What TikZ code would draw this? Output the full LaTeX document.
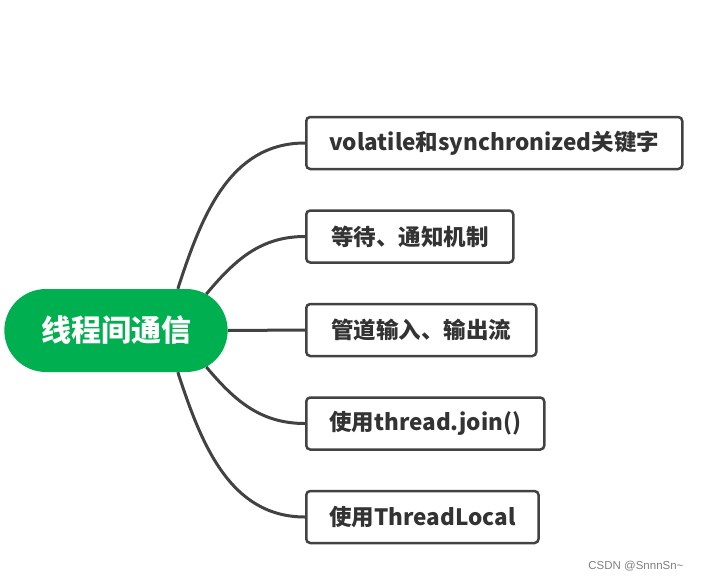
\documentclass[tikz,border=0pt]{standalone}
\usepackage{fontspec}
\newfontfamily\cjk{Noto Sans CJK SC}
\newfontfamily\wmfont{Liberation Sans}
\usetikzlibrary{positioning,shapes.misc}
\definecolor{rootgreen}{RGB}{0,176,80}
\definecolor{linegray}{RGB}{66,66,66}
\definecolor{textgray}{RGB}{51,51,51}
\tikzset{
  topic/.style={draw=linegray, line width=2.5pt, rounded corners=4pt, fill=white,
    anchor=west, minimum height=52pt, inner xsep=23pt, text=textgray,
    font=\cjk\bfseries\fontsize{22.5pt}{26pt}\selectfont},
  branch/.style={draw=linegray, line width=3pt}
}

\begin{document}
\begin{tikzpicture}[x=1pt,y=-1pt]
\useasboundingbox (0,0) rectangle (701,581);
\node[rounded rectangle, fill=rootgreen, minimum width=230pt, minimum height=83pt,%
  text=white, font=\cjk\bfseries\fontsize{30pt}{34pt}\selectfont] (root) at (116,330.5) {线程间通信};
\node[topic, minimum width=376pt] (keyword) at (305,143) {volatile和synchronized关键字};
\node[topic, minimum width=207pt] (notify) at (305,236.5) {等待、通知机制};
\node[topic, minimum width=230pt] (pipe) at (305,330) {管道输入、输出流};
\node[topic, minimum width=238pt] (join) at (305,423.5) {使用thread.join()};
\node[topic, minimum width=232pt] (local) at (305,517) {使用ThreadLocal};
\draw[branch] (root.34) to[out=72, in=180] (keyword.west);
\draw[branch] (root.22) to[out=50, in=180] (notify.west);
\draw[branch] (root.east) -- (pipe.west);
\draw[branch] (root.-22) to[out=-50, in=180] (join.west);
\draw[branch] (root.-34) to[out=-72, in=180] (local.west);
\node[anchor=east, text=gray, font=\wmfont\fontsize{11.5pt}{13pt}\selectfont] (mark) at (687,566) {CSDN @SnnnSn\textasciitilde};
\end{tikzpicture}
\end{document}
